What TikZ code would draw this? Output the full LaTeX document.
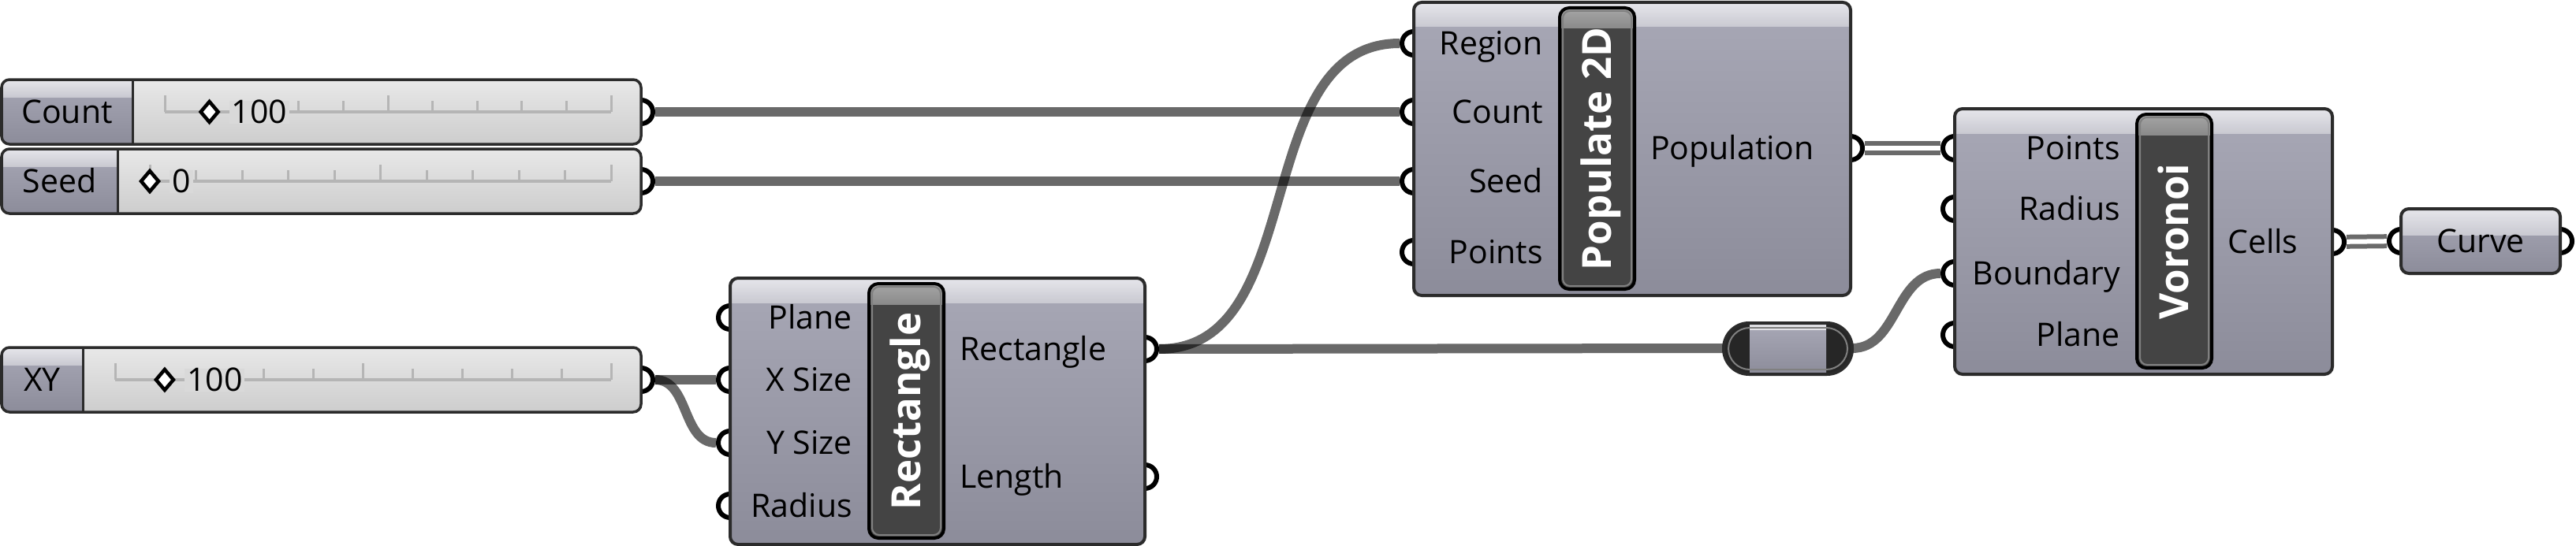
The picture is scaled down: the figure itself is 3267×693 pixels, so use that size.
\documentclass[tikz,border=0pt]{standalone}
\usepackage{fontspec}
\setmainfont{Open Sans}

\definecolor{wiregray}{HTML}{6A6A6A}
\definecolor{edge}{HTML}{2B2B2B}
\definecolor{bodytop}{HTML}{A8A8B6}
\definecolor{bodybot}{HTML}{8C8C9A}
\definecolor{headtop}{HTML}{E6E6EB}
\definecolor{headbot}{HTML}{C9C9D1}
\definecolor{bartop}{HTML}{A6A6A6}
\definecolor{barbot}{HTML}{8A8A8A}
\definecolor{bardark}{HTML}{444444}
\definecolor{bardarker}{HTML}{262626}
\definecolor{slidetop}{HTML}{E8E8E8}
\definecolor{slidebot}{HTML}{CDCDCD}
\definecolor{trackgray}{HTML}{B5B5B5}

\pgfdeclarelayer{wires}
\pgfsetlayers{wires,main}

\tikzset{
  grip/.style={circle, draw=black, line width=6pt, fill=white, minimum size=30pt, inner sep=0pt},
  wire/.style={draw=black, draw opacity=0.59, line width=12pt},
  listwire/.style={draw=wiregray, line width=6pt, double=white, double distance=6pt},
  plabel/.style={font=\fontsize{41}{48}\selectfont, text height=29pt, text depth=0pt, inner sep=0pt},
  ttl/.style={font=\fontsize{51}{60}\selectfont\bfseries, text=white, text height=36pt, text depth=0pt, inner sep=0pt, rotate=90},
  outline/.style={draw=edge, line width=4pt, rounded corners=10pt},
}

\begin{document}
\begin{tikzpicture}[x=1pt, y=-1pt]
\useasboundingbox (0,0) rectangle (3267,693);

% Number slider: #1 name, #2 top, #3 split x, #4 label, #5 value, #6 knob step
\newcommand{\drawslider}[6]{
  \node[grip] (#1-out) at (813,{#2+41}) {};
  \fill[top color=slidetop, bottom color=slidebot, rounded corners=10pt] (2,#2) rectangle (813,{#2+82});
  \begin{scope}
    \clip[rounded corners=10pt] (2,#2) rectangle (813,{#2+82});
    \fill[top color=bodytop, bottom color=bodybot] (2,#2) rectangle (#3,{#2+82});
    \fill[top color=headtop, bottom color=headbot] (2,#2) rectangle (#3,{#2+22});
  \end{scope}
  \draw[outline, line width=3.5pt] (2,#2) rectangle (813,{#2+82});
  \draw[edge, line width=3pt] (#3,#2) -- (#3,{#2+82});
  \node[plabel] at ({(2+#3)/2},{#2+41}) {#4};
  % rail and ticks
  \pgfmathsetmacro{\tstart}{#3+41}
  \pgfmathsetmacro{\tstep}{(775-\tstart)/10}
  \draw[trackgray, line width=4pt] (\tstart,{#2+41}) -- (775,{#2+41});
  \foreach \k in {0,...,10} {
    \pgfmathsetmacro{\tickx}{\tstart+\k*\tstep}
    \pgfmathsetmacro{\tickh}{mod(\k,5)==0 ? 21 : 14}
    \draw[trackgray, line width=3pt] (\tickx,{#2+41}) -- (\tickx,{#2+41-\tickh});
  }
  \pgfmathsetmacro{\knobx}{\tstart+#6*\tstep}
  \node[plabel, anchor=west, fill=slidetop!45!slidebot, inner xsep=3pt] at ({\knobx+25},{#2+41}) {#5};
  \draw[black, line width=4.5pt, fill=white, line join=miter]
    ({\knobx-11},{#2+41}) -- (\knobx,{#2+28}) -- ({\knobx+11},{#2+41}) -- (\knobx,{#2+54}) -- cycle;
}

% Component: #1 name, #2 left, #3 top, #4 right, #5 bottom, #6 bar x, #7 title, #8 inputs, #9 outputs
\newcommand{\drawcomp}[9]{
  \foreach \py/\lbl [count=\i] in {#8} \node[grip] (#1-in\i) at (#2,\py) {};
  \foreach \py/\lbl [count=\i] in {#9} \node[grip] (#1-out\i) at (#4,\py) {};
  \fill[top color=bodytop, bottom color=bodybot, rounded corners=10pt] (#2,#3) rectangle (#4,#5);
  \begin{scope}
    \clip[rounded corners=10pt] (#2,#3) rectangle (#4,#5);
    \fill[top color=headtop, bottom color=headbot] (#2,#3) rectangle (#4,{#3+31});
  \end{scope}
  \draw[outline] (#2,#3) rectangle (#4,#5);
  % name bar
  \fill[bardark, rounded corners=12pt] (#6,{#3+7}) rectangle ({#6+95},{#5-8});
  \begin{scope}
    \clip[rounded corners=12pt] (#6,{#3+7}) rectangle ({#6+95},{#5-8});
    \fill[top color=bartop, bottom color=barbot] (#6,{#3+7}) rectangle ({#6+95},{#3+33});
  \end{scope}
  \draw[gray, line width=2pt, rounded corners=9pt] ({#6+4},{#3+11}) rectangle ({#6+91},{#5-12});
  \draw[black, line width=4pt, rounded corners=12pt] (#6,{#3+7}) rectangle ({#6+95},{#5-8});
  \node[ttl] at ({#6+47.5},{(#3+#5)/2}) {#7};
  \foreach \py/\lbl in {#8} \node[plabel, anchor=east] at ({#6-21},\py) {\lbl};
  \foreach \py/\lbl in {#9} \node[plabel, anchor=west] at ({#6+115},\py) {\lbl};
}

% Sliders
\drawslider{cnt}{101}{168}{Count}{100}{1}
\drawslider{seed}{189}{149}{Seed}{0}{0}
\drawslider{xy}{441}{105}{XY}{100}{1}

% Components
\drawcomp{rect}{926}{353}{1452}{691}{1102}{Rectangle}{403/Plane, 482/X Size, 562/Y Size, 642/Radius}{443/Rectangle, 605/Length}
\drawcomp{pop}{1793}{3}{2347}{375}{1978}{Populate 2D}{55/Region, 142/Count, 230/Seed, 320/Points}{188/Population}
\drawcomp{vor}{2479}{138}{2958}{475}{2710}{Voronoi}{188/Points, 265/Radius, 347/Boundary, 425/Plane}{307/Cells}

% Relay
\coordinate (relay-in) at (2186,442);
\coordinate (relay-out) at (2349,442);
\begin{scope}
  \clip[rounded corners=32pt] (2186,410) rectangle (2349,475);
  \fill[bardarker] (2186,410) rectangle (2349,475);
  \fill[top color=bodytop, bottom color=bodybot] (2219,410) rectangle (2316,475);
  \fill[headtop] (2219,410) rectangle (2316,419);
\end{scope}
\draw[gray, line width=2pt, rounded corners=27pt] (2192,416) rectangle (2343,469);
\draw[edge, line width=4pt, rounded corners=32pt] (2186,410) rectangle (2349,475);

% Curve parameter
\node[grip] (crv-in) at (3045,306) {};
\node[grip] (crv-out) at (3247,306) {};
\fill[top color=bodytop, bottom color=bodybot, rounded corners=10pt] (3045,265) rectangle (3247,347);
\begin{scope}
  \clip[rounded corners=10pt] (3045,265) rectangle (3247,347);
  \fill[top color=headtop, bottom color=headbot] (3045,265) rectangle (3247,298);
\end{scope}
\draw[outline] (3045,265) rectangle (3247,347);
\node[plabel] (crv) at (3146,306) {Curve};

% Wires
\begin{pgfonlayer}{wires}
  \draw[wire] (cnt-out) -- (pop-in2);
  \draw[wire] (seed-out) -- (pop-in3);
  \draw[wire] (xy-out) -- (rect-in2);
  \draw[wire] (xy-out) to[out=0, in=180] (rect-in3);
  \draw[wire] (rect-out1) to[out=0, in=180] (pop-in1);
  \draw[wire] (rect-out1) -- (relay-in);
  \draw[wire] (relay-out) to[out=0, in=180] (vor-in3);
  \draw[listwire] (pop-out1) -- (vor-in1);
  \draw[listwire] (vor-out1) -- (crv-in);
\end{pgfonlayer}

\end{tikzpicture}
\end{document}
